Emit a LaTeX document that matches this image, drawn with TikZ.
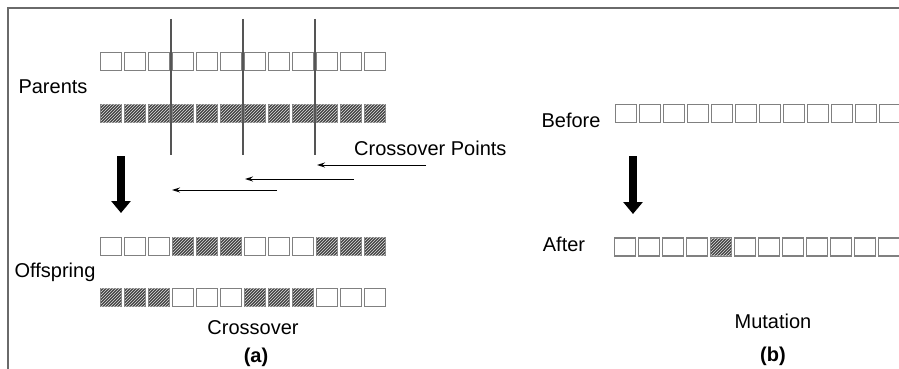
\documentclass[tikz,border=0pt]{standalone}
\usepackage{fontspec}
\setmainfont{Liberation Sans}
\usetikzlibrary{arrows.meta,patterns}
\definecolor{boxgray}{HTML}{808080}
\definecolor{cutgray}{HTML}{555555}
\definecolor{framegray}{HTML}{6A6A6A}
\definecolor{hatchdark}{HTML}{444444}
\begin{document}
\begin{tikzpicture}[x=1pt,y=-1pt,
  cell/.style={draw=boxgray, line width=1.3pt, minimum width=20.5pt, minimum height=17.8pt, inner sep=0pt, outer sep=0pt},
  hcell/.style={cell, fill=hatchdark, postaction={pattern=north east lines, pattern color=black!12}},
  lbl/.style={font=\fontsize{20}{24}\selectfont, inner sep=0pt},
  cutline/.style={draw=cutgray, line width=1.4pt},
  thinarrow/.style={draw=black, line width=1pt, -{Stealth[length=8pt,width=5pt]}},
  bigarrow/.style={draw=black, line width=8pt, -{Triangle[length=12pt,width=19pt]}}
]
\useasboundingbox (0,0) rectangle (899,369);
\clip (0,0) rectangle (899,369);
\fill[white] (0,0) rectangle (899,369);
% frame
\draw[framegray, line width=1.5pt] (8,369) -- (8,8) -- (899,8);

% (a) crossover
\foreach \i in {1,...,12}{
  \pgfmathtruncatemacro\g{mod(floor((\i-1)/3),2)}
  \ifnum\g=1 \def\sa{hcell}\def\sb{cell}\else \def\sa{cell}\def\sb{hcell}\fi
  \node[cell] (pa-\i) at ({111+24*(\i-1)},61.5) {};
  \node[hcell] (pb-\i) at ({111+24*(\i-1)},113.5) {};
  \node[\sa] (oa-\i) at ({111+24*(\i-1)},246.5) {};
  \node[\sb] (ob-\i) at ({111+24*(\i-1)},297.5) {};
}
% crossover cut lines
\coordinate (c1t) at (171,19); \coordinate (c1b) at (171,155);
\coordinate (c2t) at (243,19); \coordinate (c2b) at (243,155);
\coordinate (c3t) at (315,19); \coordinate (c3b) at (315,155);
\draw[cutline] (c1t) -- (c1b);
\draw[cutline] (c2t) -- (c2b);
\draw[cutline] (c3t) -- (c3b);

\node[lbl] (parents) at (53,87) {Parents};
\node[lbl] (offspring) at (55,272) {Offspring};
\node[lbl, anchor=west] (cpts) at (354,148) {Crossover Points};
\node[lbl] (crossover) at (253,328) {Crossover};
\node[lbl, font=\fontsize{20}{24}\selectfont\bfseries] (cap-a) at (256,357) {(a)};

% crossover point arrows
\coordinate (a1s) at (426,165); \coordinate (a1e) at (317,165);
\coordinate (a2s) at (354,179); \coordinate (a2e) at (245,179);
\coordinate (a3s) at (277,190); \coordinate (a3e) at (172,190);
\draw[thinarrow] (a1s) -- (a1e);
\draw[thinarrow] (a2s) -- (a2e);
\draw[thinarrow] (a3s) -- (a3e);

% big arrow (a)
\coordinate (da-s) at (121,156); \coordinate (da-e) at (121,213);
\draw[bigarrow] (da-s) -- (da-e);

% (b) mutation
\foreach \i in {1,...,12}{
  \node[cell] (be-\i) at ({626+24*(\i-1)},113.5) {};
  \ifnum\i=5 \def\sc{hcell}\else \def\sc{cell}\fi
  \node[\sc] (af-\i) at ({625+24*(\i-1)},247) {};
}
\node[lbl] (before) at (571,120) {Before};
\node[lbl] (after) at (564,244) {After};
\node[lbl] (mutation) at (773,321) {Mutation};
\node[lbl, font=\fontsize{20}{24}\selectfont\bfseries] (cap-b) at (773,356) {(b)};

\coordinate (db-s) at (633,156); \coordinate (db-e) at (633,214);
\draw[bigarrow] (db-s) -- (db-e);
\end{tikzpicture}
\end{document}
